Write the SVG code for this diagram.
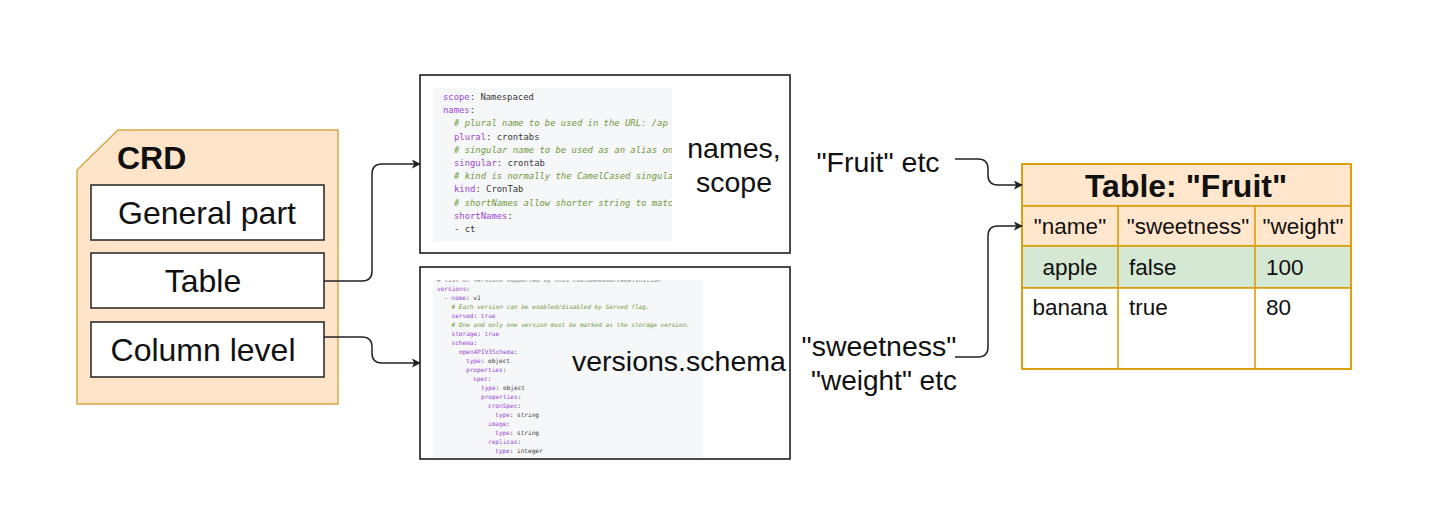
<svg xmlns="http://www.w3.org/2000/svg" width="1434" height="525" viewBox="0 0 1434 525">
<defs>
<marker id="arr" viewBox="0 0 10 10" refX="9" refY="5" markerWidth="9" markerHeight="9" markerUnits="userSpaceOnUse" orient="auto">
<path d="M0,0 L10,5 L0,10 L2.5,5 Z" fill="#222"/>
</marker>
<clipPath id="c1"><rect x="433" y="88" width="239" height="154"/></clipPath>
<clipPath id="c2"><rect x="433" y="280" width="270" height="178"/></clipPath>
<style>
.lbl{font-family:"Liberation Sans",Arial,sans-serif;fill:#111}
.box{fill:#fff;stroke:#222;stroke-width:1.5}
.cb{fill:#fff;stroke:#111;stroke-width:1.5}
.code1{font-family:"DejaVu Sans Mono","Liberation Mono",monospace;font-size:8.9px}
.code2{font-family:"DejaVu Sans Mono","Liberation Mono",monospace;font-size:6.1px}
.k{fill:#9b45d6}
.v{fill:#3a3a3a}
.cm{fill:#6f9a3c;font-style:italic}
.tb{stroke:#d79b00;stroke-width:1.5}
.conn{fill:none;stroke:#222;stroke-width:1.5;marker-end:url(#arr)}
</style>
</defs>
<rect width="1434" height="525" fill="#fff"/>

<g id="crd">
<path d="M118,130 H338 V404 H77 V170 Z" fill="#fee4c9" stroke="#d6a94a" stroke-width="1.5"/>
<text class="lbl" x="117" y="169" font-size="32" font-weight="bold">CRD</text>
</g>
<g id="general-part">
<rect class="box" x="91" y="185" width="233" height="55"/>
<text class="lbl" x="207" y="224" font-size="32" text-anchor="middle">General part</text>
</g>
<g id="table-part">
<rect class="box" x="91" y="253" width="233" height="55"/>
<text class="lbl" x="203" y="292" font-size="32" text-anchor="middle">Table</text>
</g>
<g id="column-level">
<rect class="box" x="91" y="322" width="233" height="55"/>
<text class="lbl" x="203" y="361" font-size="32" text-anchor="middle">Column level</text>
</g>

<g id="names-scope">
<rect class="cb" x="420" y="75" width="370" height="178"/>
<rect x="433" y="88" width="239" height="154" fill="#f6f7f8"/>
<g class="code1" clip-path="url(#c1)">
<text x="443" y="100"><tspan class="k">scope</tspan><tspan class="v">: Namespaced</tspan></text>
<text x="443" y="113.2"><tspan class="k">names</tspan><tspan class="v">:</tspan></text>
<text x="454" y="126.4" class="cm"># plural name to be used in the URL: /ap</text>
<text x="454" y="139.6"><tspan class="k">plural</tspan><tspan class="v">: crontabs</tspan></text>
<text x="454" y="152.8" class="cm"># singular name to be used as an alias on</text>
<text x="454" y="166"><tspan class="k">singular</tspan><tspan class="v">: crontab</tspan></text>
<text x="454" y="179.2" class="cm"># kind is normally the CamelCased singula</text>
<text x="454" y="192.4"><tspan class="k">kind</tspan><tspan class="v">: CronTab</tspan></text>
<text x="454" y="205.6" class="cm"># shortNames allow shorter string to matc</text>
<text x="454" y="218.8"><tspan class="k">shortNames</tspan><tspan class="v">:</tspan></text>
<text x="454" y="232" class="v">- ct</text>
</g>
<text class="lbl" x="734" y="158" font-size="28.5" text-anchor="middle">names,</text>
<text class="lbl" x="734" y="192" font-size="28.5" text-anchor="middle">scope</text>
</g>

<g id="versions-schema">
<rect class="cb" x="420" y="267" width="370" height="192"/>
<rect x="433" y="280" width="270" height="178" fill="#f6f7f8"/>
<g class="code2" clip-path="url(#c2)">
<text x="437" y="282" class="v" opacity="0.6"># list of versions supported by this CustomResourceDefinition</text>
<text x="437" y="291"><tspan class="k">versions</tspan><tspan class="v">:</tspan></text>
<text x="444" y="300"><tspan class="v">- </tspan><tspan class="k">name</tspan><tspan class="v">: v1</tspan></text>
<text x="451.5" y="309" class="cm"># Each version can be enabled/disabled by Served flag.</text>
<text x="451.5" y="318"><tspan class="k">served</tspan><tspan class="v">: </tspan><tspan class="k">true</tspan></text>
<text x="451.5" y="327" class="cm"># One and only one version must be marked as the storage version.</text>
<text x="451.5" y="336"><tspan class="k">storage</tspan><tspan class="v">: </tspan><tspan class="k">true</tspan></text>
<text x="451.5" y="345"><tspan class="k">schema</tspan><tspan class="v">:</tspan></text>
<text x="459" y="354"><tspan class="k">openAPIV3Schema</tspan><tspan class="v">:</tspan></text>
<text x="466" y="363"><tspan class="k">type</tspan><tspan class="v">: object</tspan></text>
<text x="466" y="372"><tspan class="k">properties</tspan><tspan class="v">:</tspan></text>
<text x="473" y="381"><tspan class="k">spec</tspan><tspan class="v">:</tspan></text>
<text x="481" y="390"><tspan class="k">type</tspan><tspan class="v">: object</tspan></text>
<text x="481" y="399"><tspan class="k">properties</tspan><tspan class="v">:</tspan></text>
<text x="488" y="408"><tspan class="k">cronSpec</tspan><tspan class="v">:</tspan></text>
<text x="495" y="417"><tspan class="k">type</tspan><tspan class="v">: string</tspan></text>
<text x="488" y="426"><tspan class="k">image</tspan><tspan class="v">:</tspan></text>
<text x="495" y="435"><tspan class="k">type</tspan><tspan class="v">: string</tspan></text>
<text x="488" y="444"><tspan class="k">replicas</tspan><tspan class="v">:</tspan></text>
<text x="495" y="453"><tspan class="k">type</tspan><tspan class="v">: integer</tspan></text>
</g>
<text class="lbl" x="572" y="371" font-size="28.5">versions.schema</text>
</g>

<g id="fruit-table">
<rect x="1022" y="164" width="329" height="42" fill="#ffe6cc" class="tb"/>
<rect x="1022" y="206" width="329" height="40" fill="#ffe6cc" class="tb"/>
<rect x="1022" y="246" width="329" height="42" fill="#d5e8d4" class="tb"/>
<rect x="1022" y="288" width="329" height="81" fill="#fff" class="tb"/>
<line x1="1118" y1="206" x2="1118" y2="369" class="tb"/>
<line x1="1255" y1="206" x2="1255" y2="369" class="tb"/>
<rect x="1022" y="164" width="329" height="205" fill="none" class="tb"/>
<text class="lbl" x="1186" y="197" font-size="32" font-weight="bold" text-anchor="middle">Table: "Fruit"</text>
<text class="lbl" x="1070" y="234" font-size="22.5" text-anchor="middle">"name"</text>
<text class="lbl" x="1188" y="234" font-size="22.5" text-anchor="middle">"sweetness"</text>
<text class="lbl" x="1303" y="234" font-size="22.5" text-anchor="middle">"weight"</text>
<text class="lbl" x="1070" y="275" font-size="22.5" text-anchor="middle">apple</text>
<text class="lbl" x="1129" y="275" font-size="22.5">false</text>
<text class="lbl" x="1266" y="275" font-size="22.5">100</text>
<text class="lbl" x="1070" y="315" font-size="22.5" text-anchor="middle">banana</text>
<text class="lbl" x="1129" y="315" font-size="22.5">true</text>
<text class="lbl" x="1266" y="315" font-size="22.5">80</text>
</g>

<g id="label-fruit">
<text class="lbl" x="878" y="172" font-size="28.5" text-anchor="middle">"Fruit" etc</text>
</g>
<g id="label-columns">
<text class="lbl" x="879" y="356" font-size="28.5" text-anchor="middle">"sweetness"</text>
<text class="lbl" x="884" y="390" font-size="28" text-anchor="middle">"weight" etc</text>
</g>

<g id="connectors">
<path class="conn" d="M324,281 H362 Q372,281 372,271 V174 Q372,164 382,164 H420"/>
<path class="conn" d="M324,337 H362 Q372,337 372,347 V353 Q372,363 382,363 H420"/>
<path class="conn" d="M955,159 H978 Q988,159 988,169 V175 Q988,185 998,185 H1022"/>
<path class="conn" d="M955,357 H978 Q988,357 988,347 V236 Q988,226 998,226 H1022"/>
</g>
</svg>
